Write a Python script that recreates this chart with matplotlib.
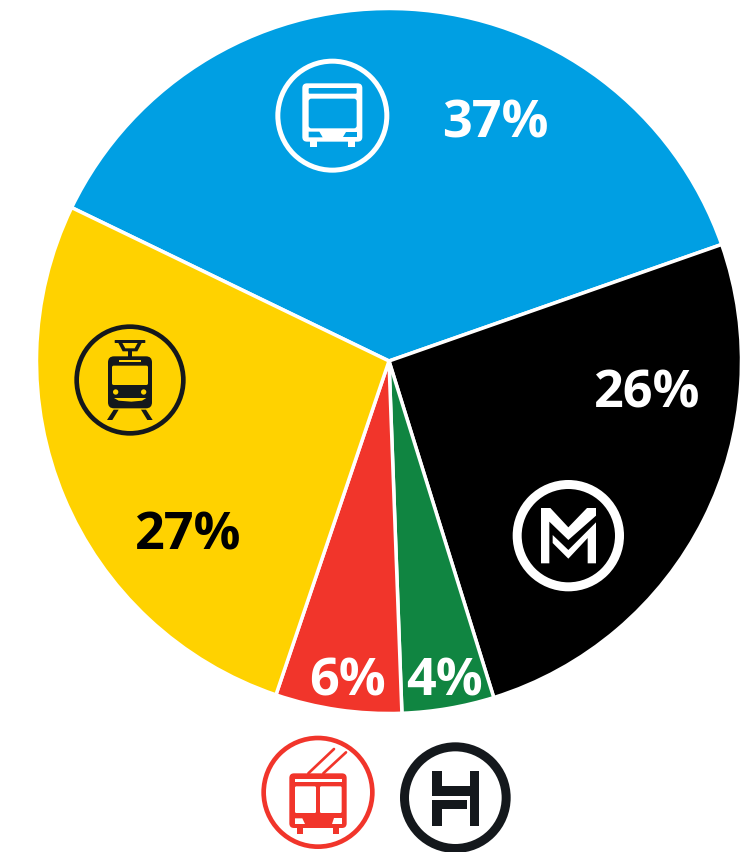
import matplotlib
matplotlib.use("Agg")
import matplotlib.pyplot as plt
from matplotlib import font_manager as fm
from matplotlib.patches import Circle, FancyBboxPatch, Polygon, Rectangle

modes = ["bus", "metro", "hev", "trolley", "tram"]
shares = [37.47, 25.56, 4.22, 5.78, 26.97]
labels = ["37%", "26%", "4%", "6%", "27%"]
colors = ["#009fe3", "#000000", "#108541", "#f1352b", "#ffd200"]
label_colors = ["white", "white", "white", "white", "black"]
label_xy = [(495, 137), (647, 407), (445, 695), (348, 695), (188, 549)]

DARK = "#14181c"
PX = 72 / 100

bold = [f.fname for f in fm.fontManager.ttflist if f.fname.endswith("OpenSans-Bold.ttf")]
label_font = fm.FontProperties(fname=bold[0], size=37.5) if bold else \
    fm.FontProperties(family="Open Sans", weight=800, size=37.5)

fig = plt.figure(figsize=(7.54, 8.53), dpi=100, facecolor="white")
ax = fig.add_axes([0, 0, 1, 1])
ax.pie(shares, colors=colors, startangle=-154.2, counterclock=True,
       center=(389, 362), radius=352.5,
       wedgeprops=dict(edgecolor="white", linewidth=3.5 * PX))
ax.set_xlim(0, 754)
ax.set_ylim(853, 0)
ax.set_aspect("equal")
ax.axis("off")

for t, (x, y), c in zip(labels, label_xy, label_colors):
    ax.text(x, y, t, color=c, ha="center", va="baseline", fontproperties=label_font, zorder=5)


class Icon:
    """Draws in the coordinates of a 3x crop whose corner is at (ox, oy)."""
    def __init__(self, ox, oy):
        self.ox, self.oy = ox, oy

    def p(self, x, y):
        return self.ox + x / 3, self.oy + y / 3

    def rect(self, x0, y0, x1, y1, color, round_=0):
        (a, b) = self.p(x0, y0)
        w, h = (x1 - x0) / 3, (y1 - y0) / 3
        if round_:
            r = round_ / 3
            ax.add_patch(FancyBboxPatch((a + r, b + r), w - 2 * r, h - 2 * r,
                                        boxstyle=f"round,pad={r},rounding_size={r}",
                                        fc=color, ec="none", zorder=7))
        else:
            ax.add_patch(Rectangle((a, b), w, h, fc=color, ec="none", zorder=7))

    def poly(self, pts, color):
        ax.add_patch(Polygon([self.p(*q) for q in pts], closed=True, fc=color, ec="none", zorder=7))

    def dot(self, x, y, r, color):
        ax.add_patch(Circle(self.p(x, y), r / 3, fc=color, ec="none", zorder=8))

    def line(self, a, b, w, color):
        (x0, y0), (x1, y1) = self.p(*a), self.p(*b)
        ax.plot([x0, x1], [y0, y1], color=color, lw=w / 3 * PX, solid_capstyle="round", zorder=7)


def ring(ic, x, y, r_out, thick, color):
    ax.add_patch(Circle(ic.p(x, y), (r_out - thick / 2) / 3, fill=False, ec=color,
                        lw=thick / 3 * PX, zorder=6))


# Bus
b = Icon(270, 55)
ring(b, 187, 185, 171, 15, "white")
b.rect(97, 88, 277, 263, "white", 14)
b.rect(116, 102, 260, 119, colors[0], 3)
b.rect(116, 134, 260, 223, colors[0], 8)
b.poly([(116, 233), (148, 233), (158, 250), (116, 250)], colors[0])
b.poly([(229, 233), (260, 233), (260, 250), (219, 250)], colors[0])
b.rect(120, 262, 140, 280, "white")
b.rect(235, 262, 255, 280, "white")

# Tram
t = Icon(68, 320)
ring(t, 186, 183, 167, 14, DARK)
t.rect(120, 112, 252, 268, DARK, 18)
t.rect(152, 122, 220, 130, colors[4])
t.rect(132, 140, 240, 198, colors[4], 5)
t.dot(143, 219, 8, colors[4])
t.dot(227, 219, 8, colors[4])
t.poly([(138, 237), (235, 237), (222, 245), (190, 248), (152, 245)], colors[4])
t.rect(140, 63, 232, 72, DARK, 2)
t.poly([(150, 70), (164, 97), (208, 97), (222, 70), (210, 70), (200, 88), (172, 88), (162, 70)], DARK)
t.rect(180, 92, 192, 114, DARK)
t.poly([(137, 272), (152, 272), (133, 303), (117, 303)], DARK)
t.poly([(219, 272), (234, 272), (254, 303), (238, 303)], DARK)

# Metro
m = Icon(506, 475)
ring(m, 187, 185, 167, 27, "white")
m.poly([(105, 102), (133, 102), (187, 160), (243, 102), (270, 102), (270, 125), (187, 198),
        (130, 143), (130, 268), (105, 268)], "white")
m.poly([(140, 183), (187, 228), (270, 145), (270, 268), (245, 268), (245, 192), (187, 254), (140, 207)], "white")

# Trolleybus
r = Icon(260, 730)
RED = colors[3]
ring(r, 174, 190, 170, 14, RED)
r.line((145, 133), (222, 60), 8, RED)
r.line((190, 133), (258, 70), 8, RED)
r.rect(88, 133, 260, 297, RED, 14)
r.rect(105, 150, 245, 160, "white")
r.rect(105, 172, 168, 252, "white", 4)
r.rect(180, 172, 245, 252, "white", 4)
r.poly([(105, 268), (127, 268), (135, 285), (105, 285)], "white")
r.poly([(223, 268), (245, 268), (245, 285), (215, 285)], "white")
r.rect(110, 296, 128, 314, RED)
r.rect(220, 296, 238, 314, RED)

# Suburban railway
h = Icon(260, 730)
ring(h, 586, 206, 166, 27, DARK)
h.rect(517, 125, 545, 200, DARK)
h.rect(545, 172, 630, 200, DARK)
h.rect(630, 125, 657, 292, DARK)
h.rect(517, 214, 620, 240, DARK)
h.rect(517, 240, 545, 292, DARK)

fig.savefig("out.png", dpi=100)
